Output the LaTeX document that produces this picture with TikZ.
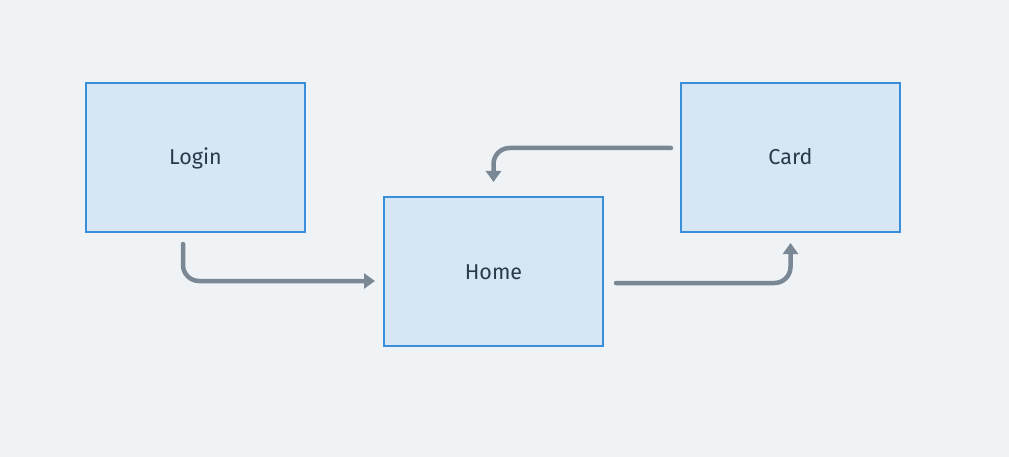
\documentclass[tikz,border=0pt]{standalone}
\usepackage{fontspec}
\setmainfont{Fira Sans}
\usetikzlibrary{arrows.meta}
\definecolor{bgcol}{HTML}{EFF3F6}
\definecolor{boxfill}{HTML}{D6E6F5}
\definecolor{boxline}{HTML}{3A8FDB}
\definecolor{flowcol}{HTML}{7A8896}
\definecolor{textcol}{HTML}{2B3A4A}
\begin{document}
\begin{tikzpicture}
  [x=1pt,y=-1pt,
   screen/.style={shape=rectangle,draw=boxline,fill=boxfill,line width=2pt,
                  minimum width=219pt,minimum height=149pt,inner sep=0pt,
                  text height=15pt,text depth=0pt,
                  text=textcol,font=\fontsize{21.5}{24}\selectfont},
   flow/.style={draw=flowcol,line width=4.5pt,line cap=round,rounded corners=16pt,
                -{Triangle[length=11pt,width=15pt]}}]
\fill [bgcol] (0,0) rectangle (1009,457) ;
\useasboundingbox (0,0) rectangle (1009,457) ;
\node [screen] (login) at (195.5,157.5) {Login};
\node [screen] (home)  at (493.5,271.5) {Home};
\node [screen] (card)  at (790.5,157.5) {Card};

\draw [flow] ([shift={(-12.5,11)}]login.south) |- ([shift={(-8,9.5)}]home.west) ;
\draw [flow] ([shift={(12,11.5)}]home.east) -| ([shift={(0,10)}]card.south) ;
\draw [flow] ([shift={(-9,-9.5)}]card.west) -| ([shift={(0,-14)}]home.north) ;
\end{tikzpicture}
\end{document}
